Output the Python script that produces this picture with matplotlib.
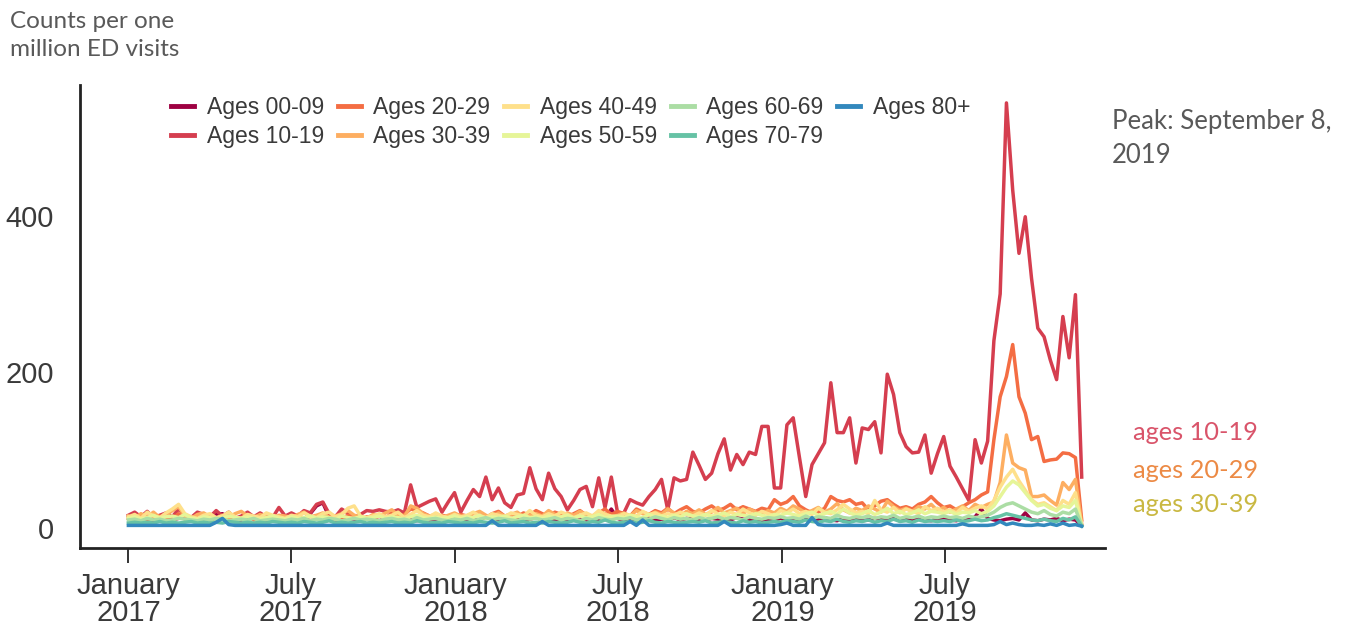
import numpy as np
import pandas as pd
import matplotlib
matplotlib.use("Agg")
import matplotlib.pyplot as plt

# weekly counts per one million ED visits, weeks starting Sunday 2017-01-01
weeks = pd.date_range("2017-01-01", periods=153, freq="7D")

ages_00_09 = [14,18,10,12,9,11,13,10,12,16,11,9,10,
              12,17,18,11,9,10,12,14,10,9,11,13,10,
              12,15,11,18,28,32,14,10,9,12,11,10,13,
              11,9,12,14,10,16,11,9,12,10,11,13,9,
              10,12,9,11,10,14,12,9,11,10,12,9,11,
              13,10,12,9,11,10,12,14,10,9,11,12,24,
              12,9,10,11,9,12,10,11,9,13,10,12,11,
              9,10,12,11,9,10,13,11,10,12,9,11,10,
              12,10,11,9,12,10,11,13,10,9,12,10,11,
              9,10,12,11,10,14,9,11,10,12,10,9,11,
              12,10,9,11,10,14,24,12,10,9,11,12,10,
              19,10,9,11,10,12,9,11,10,3]

ages_10_19 = [16,20,14,21,13,16,19,14,24,16,13,20,17,
              14,22,15,20,12,15,20,14,19,14,13,26,15,
              19,15,22,19,30,33,18,14,24,19,14,17,22,
              21,23,21,20,23,19,55,26,30,34,37,20,33,
              45,20,35,49,40,65,36,51,32,26,42,44,77,
              50,36,70,50,40,23,35,49,53,27,64,26,65,
              19,19,36,32,29,40,49,62,23,64,60,62,97,
              80,62,70,95,114,74,94,81,97,94,130,130,51,
              51,132,141,90,40,81,95,109,186,122,122,141,83,
              128,126,136,96,197,171,122,104,96,97,119,70,95,
              117,79,65,50,35,113,83,111,240,300,545,433,352,
              399,320,256,245,215,190,271,218,299,65]

ages_20_29 = [12,10,14,9,11,15,10,12,18,11,9,13,16,
              10,12,14,11,9,13,15,10,12,11,9,14,12,
              10,13,11,15,12,18,14,10,12,16,13,11,14,
              12,15,13,18,14,17,24,22,19,15,13,16,14,
              12,17,15,19,16,13,18,21,15,17,14,19,16,
              22,18,15,20,17,13,18,22,16,14,19,24,17,
              21,18,15,24,20,17,22,19,25,18,23,27,21,
              19,24,28,22,25,30,23,27,24,21,25,23,36,
              30,33,40,28,23,19,20,25,40,35,33,36,30,
              32,23,28,34,36,30,25,27,24,30,33,40,32,
              26,28,23,27,32,36,42,46,113,168,194,235,168,
              147,113,117,85,87,88,96,95,90,10]

ages_30_39 = [15,12,18,14,20,13,16,22,27,15,12,17,19,
              14,12,16,13,18,21,15,13,17,14,12,16,15,
              13,17,20,14,16,19,13,15,18,22,16,14,12,
              17,15,19,23,16,14,28,25,18,15,17,13,16,
              19,15,14,18,21,16,13,19,15,17,20,14,16,
              18,15,22,17,14,19,16,21,17,15,20,18,14,
              16,19,15,22,18,16,20,17,24,19,15,21,18,
              23,17,20,26,19,22,25,18,24,20,17,22,19,
              25,21,28,24,19,22,26,20,24,31,23,19,25,
              22,28,24,20,34,27,22,25,21,27,24,30,22,
              26,20,24,28,22,30,26,30,33,58,119,83,77,
              74,40,40,42,35,29,58,49,62,5]

ages_40_49 = [14,17,12,20,15,13,19,24,30,18,14,12,16,
              18,13,15,20,14,12,17,15,13,19,16,14,12,
              16,14,19,15,13,18,20,14,17,25,28,15,13,
              15,18,14,16,20,13,17,22,16,14,19,15,13,
              17,14,16,20,15,13,18,16,14,19,17,15,22,
              16,14,18,15,20,17,13,16,19,15,22,17,15,
              14,18,16,15,21,17,19,15,18,16,20,17,15,
              19,16,22,18,15,20,17,24,19,16,21,18,15,
              22,19,24,18,21,17,25,20,18,23,30,24,19,
              21,18,35,23,20,26,19,24,21,18,27,22,25,
              20,23,19,26,21,25,28,24,35,52,65,75,60,
              48,36,30,32,27,22,35,30,45,3]

ages_50_59 = [12,14,11,13,16,12,14,15,13,17,12,11,14,
              13,11,12,15,13,12,14,12,11,13,15,12,11,
              14,12,13,15,12,14,13,11,15,13,12,14,12,
              13,15,12,14,13,11,14,16,13,12,14,12,13,
              15,12,14,13,16,12,14,13,15,12,14,16,13,
              14,12,15,13,14,16,12,15,13,14,17,13,14,
              15,13,16,14,13,17,14,15,13,16,14,18,15,
              14,17,15,16,19,14,17,16,15,18,16,14,17,
              16,19,17,15,18,20,16,18,21,17,24,19,16,
              18,22,17,20,25,18,21,17,19,23,18,21,20,
              18,21,17,20,19,22,18,21,28,40,52,60,55,
              45,35,28,30,25,22,28,26,35,3]

ages_60_69 = [10,11,9,12,10,11,9,10,12,11,10,9,11,
              10,12,11,9,10,11,10,12,9,10,11,10,9,
              11,10,12,9,11,10,12,11,9,10,12,10,11,
              10,9,11,12,10,11,9,13,10,11,12,10,9,
              11,10,12,9,11,13,10,12,11,10,9,12,11,
              12,10,11,13,10,12,11,9,12,10,13,11,10,
              12,11,13,10,12,11,14,12,10,13,11,12,10,
              13,11,12,14,11,13,12,10,14,12,11,13,12,
              14,12,13,11,15,12,14,13,12,16,13,12,14,
              13,15,12,14,13,16,12,14,13,15,12,14,13,
              15,13,14,12,15,13,14,16,20,26,30,32,28,
              24,20,18,22,17,15,20,18,24,3]

ages_70_79 = [6,7,6,7,6,8,6,7,6,7,8,6,7,
              6,7,6,8,7,6,7,6,7,6,8,7,6,
              7,6,8,7,6,7,9,6,7,6,7,8,6,
              7,6,7,8,6,7,6,9,7,6,7,6,8,
              7,6,7,6,8,7,6,7,9,6,7,8,6,
              7,6,8,7,6,7,9,7,6,8,7,10,7,
              6,7,8,6,7,9,7,6,8,7,6,7,8,
              7,9,6,7,8,7,6,9,7,8,6,7,8,
              7,9,8,7,10,8,7,9,8,11,8,7,9,
              8,10,7,9,8,11,8,9,7,10,8,9,8,
              9,8,10,8,9,11,9,10,13,15,18,16,14,
              12,10,9,11,9,8,12,10,14,2]

ages_80 = [3,3,3,3,3,3,3,3,3,3,3,3,3,
           3,7,12,4,3,3,3,3,3,3,3,3,3,
           3,3,3,3,3,3,3,3,3,3,3,3,3,
           3,3,3,3,3,3,3,3,3,3,3,3,3,
           3,3,3,3,3,3,9,3,3,3,3,3,3,
           3,8,3,3,3,3,3,3,3,3,3,3,3,
           3,3,8,3,10,3,3,3,3,3,3,3,3,
           3,3,3,3,8,3,3,3,3,3,3,3,3,
           4,6,3,3,3,13,4,3,3,3,3,3,3,
           3,3,3,3,6,3,3,3,3,3,3,3,3,
           3,3,3,5,3,3,3,3,4,8,4,6,4,
           3,3,4,3,5,3,6,3,4,2]

labels = ["Ages 00-09", "Ages 10-19", "Ages 20-29", "Ages 30-39", "Ages 40-49",
          "Ages 50-59", "Ages 60-69", "Ages 70-79", "Ages 80+"]
series = [ages_00_09, ages_10_19, ages_20_29, ages_30_39, ages_40_49,
          ages_50_59, ages_60_69, ages_70_79, ages_80]
colors = ["#9e0142", "#d53e4f", "#f46d43", "#fdae61", "#fee08b",
          "#e6f598", "#abdda4", "#66c2a5", "#3288bd"]

tick_dates = pd.to_datetime(["2017-01-01", "2017-07-01", "2018-01-01",
                             "2018-07-01", "2019-01-01", "2019-07-01"])
tick_labels = ["January\n2017", "July\n2017", "January\n2018",
               "July\n2018", "January\n2019", "July\n2019"]

fig = plt.figure(figsize=(13.55, 6.27), dpi=100)
ax = fig.add_axes([80/1355, 1-548/627, 1025/1355, 463/627])

for lab, vals, c in zip(labels, series, colors):
    ax.plot(weeks, vals, color=c, lw=2.5, label=lab)

ax.set_xlim(pd.Timestamp("2016-11-08"), pd.Timestamp("2019-12-27"))
ax.set_ylim(-26, 568)
ax.set_yticks([0, 200, 400])
ax.set_xticks(tick_dates)
ax.set_xticklabels(tick_labels, linespacing=0.95)

for t in ax.get_xticklabels() + ax.get_yticklabels():
    t.set_fontfamily("Liberation Sans")
    t.set_fontsize(21)
    t.set_color("#3a3a3a")

ax.tick_params(axis="x", length=11, width=1.4, color="#333333", pad=6)
ax.tick_params(axis="y", length=0, pad=19)
for side in ["top", "right"]:
    ax.spines[side].set_visible(False)
for side in ["left", "bottom"]:
    ax.spines[side].set_linewidth(2)
    ax.spines[side].set_color("#222222")

leg = ax.legend(ncol=5, loc="upper left", bbox_to_anchor=(0.08, 0.995),
                frameon=False, prop={"family": "Liberation Sans", "size": 16.5},
                handlelength=1.0, handletextpad=0.55, columnspacing=0.6,
                labelspacing=0.25, borderaxespad=0)
for t in leg.get_texts():
    t.set_color("#3a3a3a")
for h in leg.get_lines():
    h.set_linewidth(3.5)

note = {"family": "Lato", "color": "#595959"}
fig.text(10/1355, 1-11/627, "Counts per one\nmillion ED visits", ha="left", va="top",
         fontsize=17.5, linespacing=1.4, **note)
fig.text(1112/1355, 1-109/627, "Peak: September 8,\n2019", ha="left", va="top",
         fontsize=18.5, linespacing=1.45, **note)

fig.text(1133/1355, 1-433/627, "ages 10-19", ha="left", va="center",
         fontsize=18.3, color="#d9546a", family="Lato")
fig.text(1133/1355, 1-470/627, "ages 20-29", ha="left", va="center",
         fontsize=18.3, color="#ec8a45", family="Lato")
fig.text(1133/1355, 1-505/627, "ages 30-39", ha="left", va="center",
         fontsize=18.3, color="#c9b842", family="Lato")

fig.savefig("out.png", dpi=100)
